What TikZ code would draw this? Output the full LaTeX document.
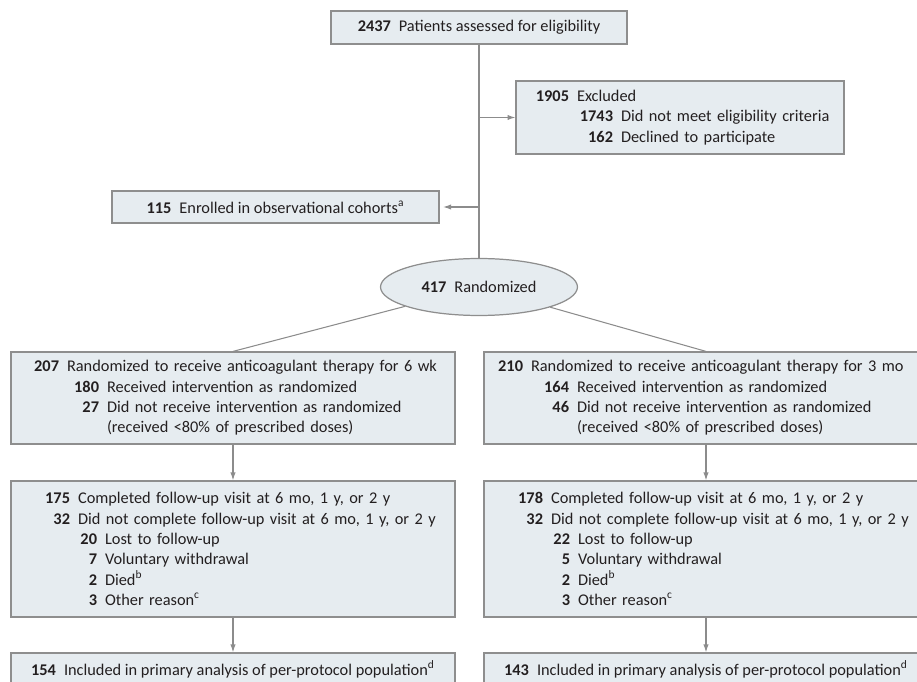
\documentclass[tikz,border=0pt]{standalone}
\usepackage{fontspec}
\setmainfont{Carlito}
\usetikzlibrary{arrows.meta, shapes.geometric}

\definecolor{boxfill}{HTML}{E6ECF0}
\definecolor{boxline}{HTML}{8E8E8E}
\definecolor{flowline}{HTML}{8C8C8C}
\definecolor{txt}{HTML}{231F20}

\newlength{\px}
\setlength{\px}{0.02cm}
% one row of a box: right edge of the count, count, text
\newcommand{\countrow}[3]{\hspace*{#1\px}\llap{\bfseries #2}\hspace{8\px}#3}

\begin{document}
\begin{tikzpicture}[x=0.02cm, y=-0.02cm,
    box/.style = {draw=boxline, fill=boxfill, line width=0.7pt, text=txt,
        font=\fontsize{9.3}{11.6}\selectfont, inner sep=0pt},
    lbox/.style = {box, align=left, text width=#1},
    flow/.style = {draw=flowline, line width=0.6pt},
    arr/.style = {flow, -{Latex[length=4.5pt, width=3pt]}}]
    \useasboundingbox (0,0) rectangle (917,682);
    \clip (0,0) rectangle (917,682);

    \node (assess) [box, minimum width=5.92cm, minimum height=0.66cm] at (479,27.5)
        {\textbf{2437}\hspace{8\px}Patients assessed for eligibility};
    \node (excl) [lbox=6.56cm, minimum height=1.46cm] at (680,117.5)
        {\countrow{53}{1905}{Excluded}\\
         \countrow{97}{1743}{Did not meet eligibility criteria}\\
         \countrow{97}{162}{Declined to participate}};
    \node (obs) [box, minimum width=6.54cm, minimum height=0.64cm] at (275.5,207)
        {\textbf{115}\hspace{8\px}Enrolled in observational cohorts\textsuperscript{a}};
    \node (rand) [box, ellipse, minimum width=3.94cm, minimum height=1.14cm] at (479,287)
        {\textbf{417}\hspace{8\px}Randomized};

    \node (arm1) [lbox=8.88cm, minimum height=1.84cm] at (233,398)
        {\countrow{48}{207}{Randomized to receive anticoagulant therapy for 6 wk}\\
         \countrow{88}{180}{Received intervention as randomized}\\
         \countrow{88}{27}{Did not receive intervention as randomized}\\
         \countrow{88}{}{(received <80\% of prescribed doses)}};
    \node (arm2) [lbox=8.88cm, minimum height=1.84cm] at (706,398)
        {\countrow{39}{210}{Randomized to receive anticoagulant therapy for 3 mo}\\
         \countrow{85}{164}{Received intervention as randomized}\\
         \countrow{85}{46}{Did not receive intervention as randomized}\\
         \countrow{85}{}{(received <80\% of prescribed doses)}};

    \node (fu1) [lbox=8.88cm, minimum height=2.72cm] at (233,549)
        {\countrow{59}{175}{Completed follow-up visit at 6 mo, 1 y, or 2 y}\\
         \countrow{59}{32}{Did not complete follow-up visit at 6 mo, 1 y, or 2 y}\\
         \countrow{86}{20}{Lost to follow-up}\\
         \countrow{86}{7}{Voluntary withdrawal}\\
         \countrow{86}{2}{Died\textsuperscript{b}}\\
         \countrow{86}{3}{Other reason\textsuperscript{c}}};
    \node (fu2) [lbox=8.88cm, minimum height=2.72cm] at (706,549)
        {\countrow{59}{178}{Completed follow-up visit at 6 mo, 1 y, or 2 y}\\
         \countrow{59}{32}{Did not complete follow-up visit at 6 mo, 1 y, or 2 y}\\
         \countrow{86}{22}{Lost to follow-up}\\
         \countrow{86}{5}{Voluntary withdrawal}\\
         \countrow{86}{2}{Died\textsuperscript{b}}\\
         \countrow{86}{3}{Other reason\textsuperscript{c}}};

    \node (pp1) [box, minimum width=8.88cm, minimum height=0.66cm] at (233,669.5)
        {\textbf{154}\hspace{8\px}Included in primary analysis of per-protocol population\textsuperscript{d}};
    \node (pp2) [box, minimum width=8.88cm, minimum height=0.66cm] at (706,669.5)
        {\textbf{143}\hspace{8\px}Included in primary analysis of per-protocol population\textsuperscript{d}};

    \draw [flow] (assess) -- (rand);
    \draw [arr] (assess.south |- excl.west) -- (excl.west);
    \draw [arr, shorten >=2pt] (assess.south |- obs.east) -- (obs.east);
    \draw [flow] (rand) -- (arm1.north);
    \draw [flow] (rand) -- (arm2.north);
    \draw [arr] (arm1) -- (fu1);
    \draw [arr] (arm2) -- (fu2);
    \draw [arr] (fu1) -- (pp1);
    \draw [arr] (fu2) -- (pp2);
\end{tikzpicture}
\end{document}
